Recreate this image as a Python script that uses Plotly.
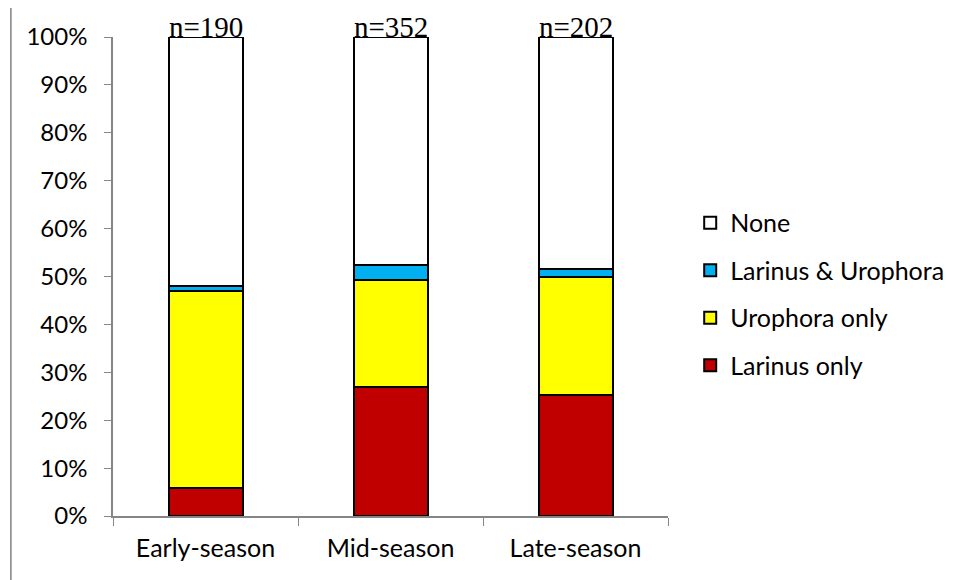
import plotly.graph_objects as go

categories = ["Early-season", "Mid-season", "Late-season"]
n_labels = ["n=190", "n=352", "n=202"]
larinus_only = [5.8, 27.0, 25.2]
urophora_only = [41.1, 22.2, 24.8]
larinus_urophora = [1.1, 3.1, 1.5]
none = [52.0, 47.7, 48.5]
y_ticks = [0, 10, 20, 30, 40, 50, 60, 70, 80, 90, 100]

series = [
    ("Larinus only", larinus_only, "#C00000", 4),
    ("Urophora only", urophora_only, "#FFFF00", 3),
    ("Larinus & Urophora", larinus_urophora, "#00B0F0", 2),
    ("None", none, "#FFFFFF", 1),
]

fig = go.Figure()
for name, vals, color, rank in series:
    fig.add_trace(go.Bar(
        x=categories, y=vals, name=name, legendgroup=name, legendrank=rank,
        marker=dict(color=color, line=dict(color="#000000", width=2)),
        width=0.4,
    ))

font_main = "Lato, Calibri, Carlito, sans-serif"
for cat, lab in zip(categories, n_labels):
    fig.add_annotation(x=cat, y=100, xref="x", yref="y", text=lab, showarrow=False,
                       yanchor="bottom", yshift=-8,
                       font=dict(family="Liberation Serif, Times New Roman, serif", size=29, color="#000"))

gray = "#868686"
fig.update_layout(
    barmode="stack",
    width=961, height=580,
    margin=dict(l=105, r=301, t=29, b=72),
    paper_bgcolor="white", plot_bgcolor="white",
    font=dict(family=font_main, size=24, color="#000"),
    showlegend=True,
    legend=dict(traceorder="grouped", x=1.04, xanchor="left", y=0.4635, yanchor="middle",
                font=dict(size=25), tracegroupgap=12, itemwidth=30),
    xaxis=dict(showline=True, linecolor=gray, linewidth=1.5, ticks="outside", tickson="boundaries",
               ticklen=8, tickcolor=gray, tickfont=dict(size=25), showgrid=False,
               automargin=False, ticklabelstandoff=9),
    yaxis=dict(range=[0, 100], tickvals=y_ticks, ticktext=[f"{v}%" for v in y_ticks],
               showline=True, linecolor=gray, linewidth=1.5, ticks="outside", ticklen=7,
               tickcolor=gray, showgrid=False, zeroline=False, tickfont=dict(size=24),
               automargin=False, ticklabelstandoff=12),
    shapes=[
        dict(type="line", xref="paper", yref="paper", x0=-0.184, x1=1.6, y0=1.0626, y1=1.0626,
             line=dict(color="#808080", width=1.5)),
        dict(type="line", xref="paper", yref="paper", x0=-0.184, x1=-0.184, y0=1.0626, y1=-0.2,
             line=dict(color="#808080", width=1.5)),
    ],
)

fig.write_html("out.html")
